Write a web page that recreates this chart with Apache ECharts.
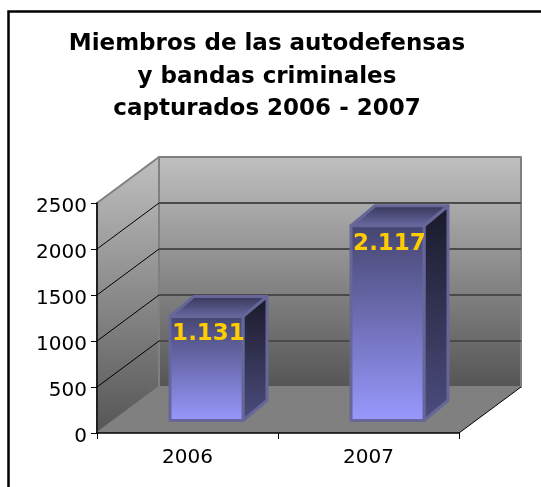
<!DOCTYPE html>
<html>
<head>
<meta charset="utf-8">
<style>
  html, body { margin: 0; padding: 0; background: #fff; }
  #chart { width: 541px; height: 487px; }
</style>
<script src="https://cdn.jsdelivr.net/npm/echarts@6/dist/echarts.min.js"></script>
</head>
<body>
<div id="chart"></div>
<script>
const titleText = "Miembros de las autodefensas\ny bandas criminales\ncapturados 2006 - 2007";
const categories = ["2006", "2007"];
const values = [1131, 2117];
const valueLabels = ["1.131", "2.117"];
const gridLevels = [500, 1000, 1500, 2000, 2500];

// profundidad de la caja 3D en pixeles
const DEPTH_X = 62, DEPTH_Y = 46;
const BAR_W = 73;
const BAR_FRONT_Y = 12.5;
const BAR_SIDE_X = 24, BAR_SIDE_Y = 20;

const wallFill = (top, bottom) => ({
  type: "linear", x: 0, y: 0, x2: 0, y2: 1,
  colorStops: [{ offset: 0, color: top }, { offset: 1, color: bottom }],
});

const poly = (points, fill, z2, stroke, lineWidth) => ({
  type: "polygon",
  z2: z2,
  shape: { points: points },
  style: { fill: fill, stroke: stroke || null, lineWidth: lineWidth || 0, lineJoin: "round" },
});

const line = (p, q, stroke, lineWidth, z2) => ({
  type: "line",
  z2: z2,
  shape: { x1: p[0], y1: p[1], x2: q[0], y2: q[1] },
  style: { stroke: stroke, lineWidth: lineWidth },
});

// paredes y piso
function renderRoom(params, api) {
  const cs = params.coordSys;
  const x0 = cs.x, x1 = cs.x + cs.width;
  const y0 = cs.y + cs.height, yTop = cs.y;
  const dx = DEPTH_X, dy = DEPTH_Y;
  const children = [
    poly([[x0 + dx, yTop - dy], [x1 + dx, yTop - dy], [x1 + dx, y0 - dy], [x0 + dx, y0 - dy]],
      wallFill("#c0c0c0", "#555555"), 1, "#808080", 2),
    poly([[x0, yTop], [x0 + dx, yTop - dy], [x0 + dx, y0 - dy], [x0, y0]],
      wallFill("#c0c0c0", "#555555"), 1, "#808080", 2),
    poly([[x0, y0], [x0 + dx, y0 - dy], [x1 + dx, y0 - dy], [x1, y0]],
      "#808080", 2),
    line([x1, y0], [x1 + dx, y0 - dy], "#000000", 1, 3),
  ];
  gridLevels.forEach((v) => {
    const y = api.coord([0, v])[1];
    if (v < 2500) {
      children.push(line([x0 + dx, y - dy], [x1 + dx, y - dy], "#4a4a4a", 2, 3));
      children.push(line([x0, y], [x0 + dx, y - dy], "#000000", 1, 3));
    }
  });
  return { type: "group", children: children };
}

// barra 3D
function renderBar(params, api) {
  const p = api.coord([api.value(0), api.value(1)]);
  const base = api.coord([api.value(0), 0]);
  const band = api.size([1, 0])[0];
  const left = p[0] - band / 2 + (band - BAR_W - BAR_SIDE_X + DEPTH_X) / 2;
  const right = left + BAR_W;
  const yt = p[1] - BAR_FRONT_Y;
  const yb = base[1] - BAR_FRONT_Y;
  const sx = BAR_SIDE_X, sy = BAR_SIDE_Y;
  const edge = "#666699";
  return {
    type: "group",
    children: [
      poly([[right, yt], [right + sx, yt - sy], [right + sx, yb - sy], [right, yb]],
        wallFill("#191929", "#4d4d80"), 5, edge, 3),
      poly([[left, yt], [left + sx, yt - sy], [right + sx, yt - sy], [right, yt]],
        wallFill("#333355", "#6b6ba6"), 5, edge, 3),
      poly([[left, yt], [right, yt], [right, yb], [left, yb]],
        wallFill("#45456f", "#9999ff"), 6, edge, 3),
      {
        type: "text",
        z2: 10,
        style: {
          x: (left + right) / 2 + 2,
          y: yt + 18,
          text: valueLabels[params.dataIndex],
          fill: "#ffcc00",
          font: "bold 23px 'DejaVu Sans'",
          align: "center",
          verticalAlign: "middle",
        },
      },
    ],
  };
}

const chart = echarts.init(document.getElementById("chart"), null, { renderer: "canvas" });
chart.setOption({
  animation: false,
  backgroundColor: "#ffffff",
  title: {
    text: titleText,
    left: 262,
    top: 23,
    textAlign: "center",
    textStyle: {
      fontFamily: "DejaVu Sans",
      fontWeight: "bold",
      fontSize: 23,
      lineHeight: 32.5,
      color: "#000000",
    },
  },
  // el marco solo se ve arriba y a la izquierda, sigue fuera de la imagen
  graphic: [{
    type: "rect",
    left: 6,
    top: 9,
    shape: { x: 0, y: 0, width: 560, height: 500 },
    style: { fill: "none", stroke: "#000000", lineWidth: 2.5 },
    silent: true,
  }],
  grid: { left: 97, right: 82, top: 203, bottom: 54 },
  xAxis: {
    type: "category",
    data: categories,
    axisLine: { onZero: false, lineStyle: { color: "#000000", width: 1.5 } },
    axisTick: { show: true, length: 6, alignWithLabel: false, lineStyle: { color: "#000000" } },
    axisLabel: { color: "#000000", fontFamily: "DejaVu Sans", fontSize: 20, margin: 15 },
    z: 20,
  },
  yAxis: {
    type: "value",
    min: 0,
    max: 2500,
    interval: 500,
    axisLine: { show: true, lineStyle: { color: "#000000", width: 1.5 } },
    axisTick: { show: true, length: 6, lineStyle: { color: "#000000" } },
    axisLabel: {
      margin: 10,
      formatter: (v) => "{n|" + v + "}",
      rich: {
        n: {
          color: "#000000",
          fontFamily: "DejaVu Sans",
          fontSize: 20,
          padding: [8, 0, 0, 0],
        },
      },
    },
    splitLine: { show: false },
    z: 20,
  },
  series: [
    {
      type: "custom",
      renderItem: renderRoom,
      data: [[0, 0]],
      encode: { x: 0, y: 1 },
      silent: true,
      z: 1,
    },
    {
      type: "custom",
      renderItem: renderBar,
      data: categories.map((c, i) => [i, values[i]]),
      encode: { x: 0, y: 1 },
      silent: true,
      z: 5,
    },
  ],
});
</script>
</body>
</html>
